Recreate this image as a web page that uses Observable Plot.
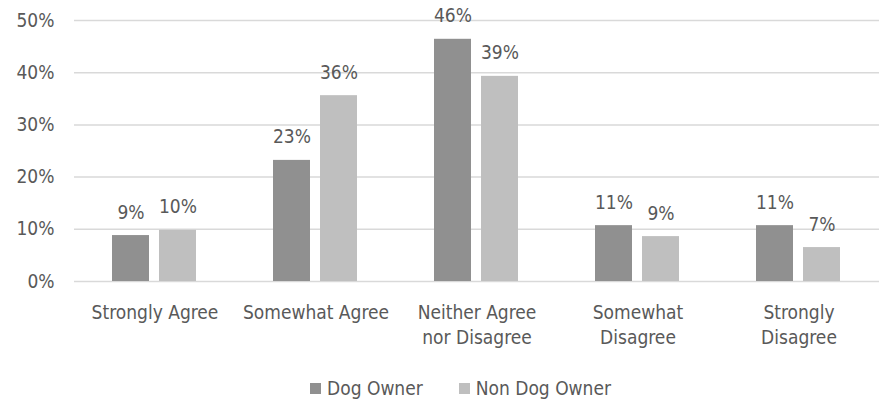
<!DOCTYPE html>
<html>
<head>
<meta charset="utf-8">
<script src="https://cdn.jsdelivr.net/npm/d3@7"></script>
<script src="https://cdn.jsdelivr.net/npm/@observablehq/plot@0.6"></script>
<style>
  html, body { margin: 0; padding: 0; background: #fff; }
  body { width: 881px; height: 403px; overflow: hidden; font-family: "DejaVu Sans Condensed", sans-serif; }
  #legend { display: flex; justify-content: center; gap: 36px; font-size: 19px; color: #595959; margin-top: 17px; margin-left: 40px; line-height: 22px; }
  #legend span.item { display: flex; align-items: center; gap: 6px; }
  #legend span.sw { width: 11px; height: 11px; display: inline-block; }
</style>
</head>
<body>
<div id="chart"></div>
<div id="legend"></div>
<script>
const categories = ["Strongly Agree", "Somewhat Agree", "Neither Agree\nnor Disagree", "Somewhat\nDisagree", "Strongly\nDisagree"];
const seriesNames = ["Dog Owner", "Non Dog Owner"];
const dogOwner = [8.8, 23.2, 46.4, 10.7, 10.7];
const nonDogOwner = [9.8, 35.6, 39.3, 8.6, 6.5];
const seriesColors = ["#909090", "#bfbfbf"];
const yTicks = [0, 10, 20, 30, 40, 50];

const rows = [];
categories.forEach((c, i) => {
  rows.push({category: c, series: seriesNames[0], value: dogOwner[i]});
  rows.push({category: c, series: seriesNames[1], value: nonDogOwner[i]});
});

const textColor = "#595959";
const fs = 19;
const chart = Plot.plot({
  width: 881,
  height: 360,
  marginLeft: 72,
  marginRight: 0,
  marginTop: 20,
  marginBottom: 79,
  style: {fontFamily: "'DejaVu Sans Condensed', sans-serif", fontSize: fs + "px", color: textColor},
  fx: {domain: categories, padding: 0, label: null},
  x: {domain: seriesNames, paddingInner: 0.21, paddingOuter: 0.79, axis: null},
  y: {domain: [0, 50], axis: null},
  color: {domain: seriesNames, range: seriesColors},
  marks: [
    Plot.ruleY(yTicks, {stroke: "#d9d9d9", strokeWidth: 1.5}),
    Plot.axisY({ticks: yTicks, tickSize: 0, tickPadding: 20, tickFormat: d => d + "%", label: null, fill: textColor, fontSize: fs}),
    Plot.axisFx({anchor: "bottom", tickSize: 0, tickPadding: 19, label: null, fill: textColor, fontSize: fs, lineHeight: 1.35, lineAnchor: "top"}),
    Plot.barY(rows, {fx: "category", x: "series", y: "value", fill: "series"}),
    Plot.text(rows, {fx: "category", x: "series", y: "value", text: d => Math.round(d.value) + "%", lineAnchor: "bottom", dy: -17, fill: textColor, fontSize: fs})
  ]
});
document.getElementById("chart").appendChild(chart);

const legend = document.getElementById("legend");
seriesNames.forEach((s, i) => {
  const item = document.createElement("span");
  item.className = "item";
  const sw = document.createElement("span");
  sw.className = "sw";
  sw.style.background = seriesColors[i];
  item.appendChild(sw);
  item.appendChild(document.createTextNode(s));
  legend.appendChild(item);
});
</script>
</body>
</html>
